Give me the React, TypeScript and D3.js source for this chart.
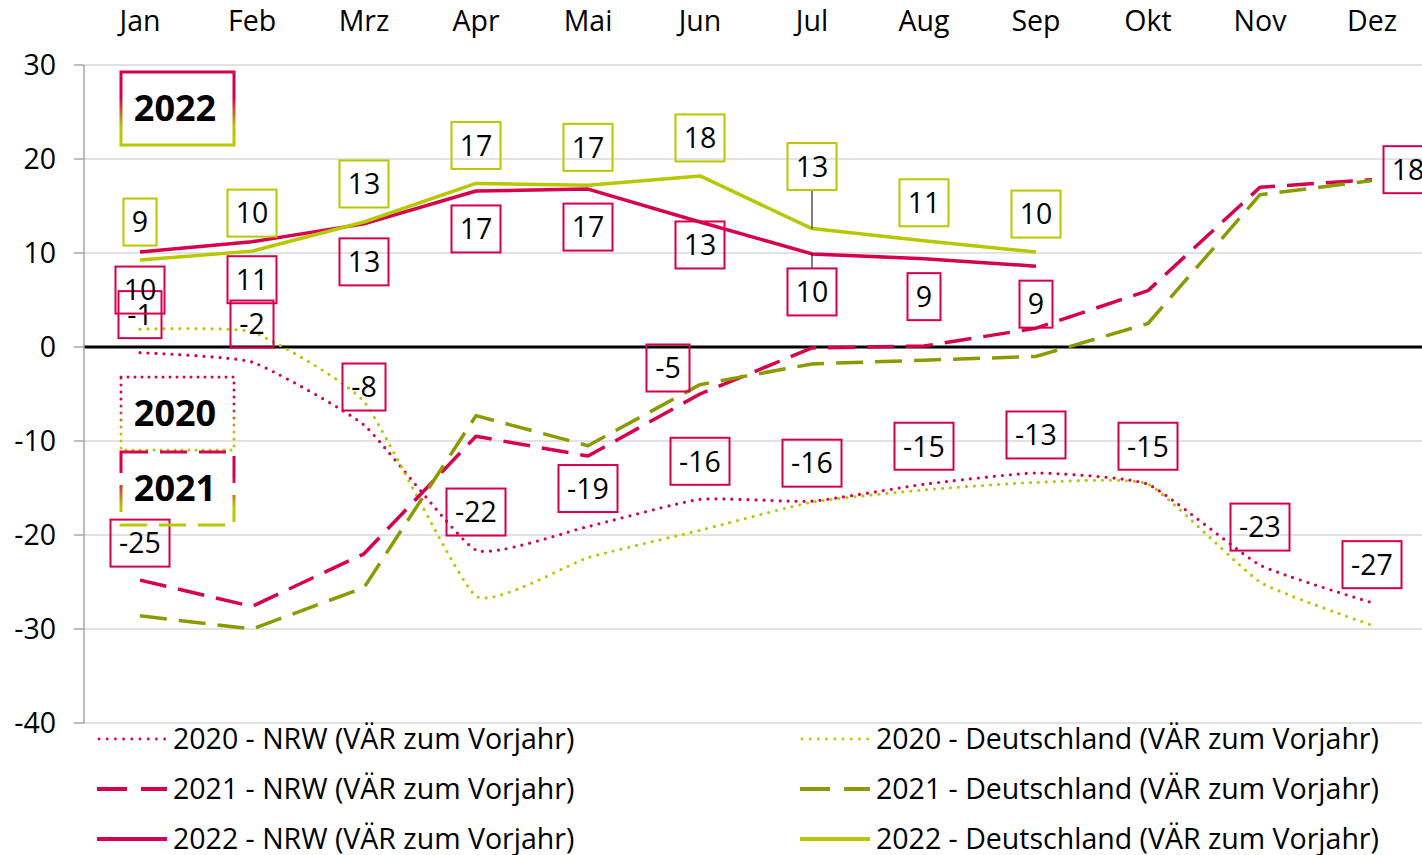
import React from 'react';
import * as d3 from 'd3';

const months = ['Jan', 'Feb', 'Mrz', 'Apr', 'Mai', 'Jun', 'Jul', 'Aug', 'Sep', 'Okt', 'Nov', 'Dez'];
const yTicks = [30, 20, 10, 0, -10, -20, -30, -40];

const nrw2020 = [-0.6, -1.6, -8.3, -21.6, -19.1, -16.2, -16.4, -14.6, -13.4, -14.6, -23.2, -27.2];
const de2020 = [1.9, 1.6, -5.8, -26.5, -22.4, -19.5, -16.5, -15.2, -14.4, -14.6, -25.0, -29.6];
const nrw2021 = [-24.8, -27.6, -22.0, -9.5, -11.6, -5.0, -0.1, 0.1, 2.0, 6.0, 17.0, 17.8];
const de2021 = [-28.6, -30.0, -25.6, -7.3, -10.5, -4.0, -1.8, -1.4, -1.0, 2.5, 16.2, 17.7];
const nrw2022 = [10.1, 11.2, 13.1, 16.6, 16.8, 13.3, 9.9, 9.4, 8.6];
const de2022 = [9.25, 10.2, 13.3, 17.4, 17.2, 18.2, 12.6, 11.3, 10.1];

const CRIMSON = '#d6004f';
const LIME = '#b7c800';
const OLIVE = '#8a9a00';
const FONT = '"Open Sans", "Noto Sans", sans-serif';
const FS = 28.5;

type Series = {
  name: string;
  values: number[];
  color: string;
  dash: string;
  width: number;
  smooth: boolean;
  labelColor: string | null;
  labels: { i: number; dx: number; dy: number; leader?: boolean }[];
};

const allIdx = (n: number, dy: number) => d3.range(n).map((i) => ({ i, dx: 0, dy }));

const series: Series[] = [
  { name: '2020 - NRW (VÄR zum Vorjahr)', values: nrw2020, color: CRIMSON, dash: '0 8', width: 3.2, smooth: true, labelColor: CRIMSON, labels: allIdx(12, -38) },
  { name: '2020 - Deutschland (VÄR zum Vorjahr)', values: de2020, color: LIME, dash: '0 8', width: 3.2, smooth: true, labelColor: null, labels: [] },
  { name: '2021 - NRW (VÄR zum Vorjahr)', values: nrw2021, color: CRIMSON, dash: '27 12', width: 3.5, smooth: false, labelColor: CRIMSON, labels: [{ i: 0, dx: 0, dy: -37 }, { i: 5, dx: -32, dy: -26 }, { i: 11, dx: 36, dy: -10 }] },
  { name: '2021 - Deutschland (VÄR zum Vorjahr)', values: de2021, color: OLIVE, dash: '27 12', width: 3.5, smooth: false, labelColor: null, labels: [] },
  { name: '2022 - NRW (VÄR zum Vorjahr)', values: nrw2022, color: CRIMSON, dash: '', width: 3.5, smooth: false, labelColor: CRIMSON, labels: allIdx(9, 38).map((l) => (l.i === 5 ? { ...l, dy: 23 } : l.i === 6 ? { ...l, leader: true } : l)) },
  { name: '2022 - Deutschland (VÄR zum Vorjahr)', values: de2022, color: LIME, dash: '', width: 3.5, smooth: false, labelColor: LIME, labels: allIdx(9, -38).map((l) => (l.i === 6 ? { ...l, dy: -62, leader: true } : l)) },
];

const legendOrder = [0, 1, 2, 3, 4, 5];

export default function App() {
  const W = 1422;
  const H = 855;
  const left = 84;
  const x = d3.scaleBand<string>().domain(months).range([left, left + 112 * 12]);
  const cx = (i: number) => (x(months[i]) as number) + x.bandwidth() / 2;
  const y = d3.scaleLinear().domain([-40, 30]).range([723, 65]);

  const lineGen = (smooth: boolean) =>
    d3
      .line<number>()
      .x((_, i) => cx(i))
      .y((d) => y(d))
      .curve(smooth ? d3.curveCardinal.tension(0.55) : d3.curveLinear);

  const boxW = (t: string) => {
    const digits = t.replace('-', '').length;
    return 17 + digits * 16 + (t.startsWith('-') ? 10 : 0);
  };
  const boxH = 47;

  return (
    <svg width={W} height={H} style={{ position: 'absolute', left: 0, top: 0, background: '#fff' }} fontFamily={FONT}>
      <defs>
        <linearGradient id="gr" x1="0" y1="0" x2="0" y2="1">
          <stop offset="0" stopColor={CRIMSON} />
          <stop offset="0.35" stopColor={CRIMSON} />
          <stop offset="0.75" stopColor={LIME} />
          <stop offset="1" stopColor={LIME} />
        </linearGradient>
      </defs>
      {/* gridlines */}
      {yTicks.map((t) => (
        <g key={t}>
          <line x1={left} x2={W} y1={y(t)} y2={y(t)} stroke={t === 0 ? '#000' : '#d9d9d9'} strokeWidth={t === 0 ? 3 : 1.5} />
          <line x1={left - 10} x2={left} y1={y(t)} y2={y(t)} stroke="#a6a6a6" strokeWidth={1.5} />
          <text x={56} y={y(t)} dy="0.35em" textAnchor="end" fontSize={FS} fill="#000">
            {t}
          </text>
        </g>
      ))}
      <line x1={left} x2={left} y1={y(30)} y2={y(-40)} stroke="#a6a6a6" strokeWidth={1.5} />
      {/* x labels */}
      {months.map((m, i) => (
        <text key={m} x={cx(i)} y={21} dy="0.35em" textAnchor="middle" fontSize={FS} fill="#000">
          {m}
        </text>
      ))}
      {/* lines */}
      {series.map((s) => (
        <path
          key={s.name}
          d={lineGen(s.smooth)(s.values) || ''}
          fill="none"
          stroke={s.color}
          strokeWidth={s.width}
          strokeDasharray={s.dash || undefined}
          strokeLinecap={s.dash.startsWith('0') ? 'round' : 'butt'}
          strokeLinejoin="round"
        />
      ))}
      {/* labels */}
      {series.map((s) =>
        s.labels.map((l) => {
          const v = s.values[l.i];
          const t = String(Math.round(v));
          const px = cx(l.i) + l.dx;
          const py = y(v) + l.dy;
          const w = boxW(t);
          return (
            <g key={s.name + l.i}>
              {l.leader && (
                <line
                  x1={cx(l.i)}
                  x2={cx(l.i)}
                  y1={l.dy < 0 ? py + boxH / 2 : py - boxH / 2}
                  y2={y(v)}
                  stroke="#000"
                  strokeWidth={1}
                />
              )}
              <rect x={px - w / 2} y={py - boxH / 2} width={w} height={boxH} fill="none" stroke={s.labelColor as string} strokeWidth={2} />
              <text x={px} y={py} dy="0.36em" textAnchor="middle" fontSize={FS} fill="#000">
                {t}
              </text>
            </g>
          );
        })
      )}
      {/* year boxes */}
      <rect x={121} y={72} width={113} height={73} fill="none" stroke="url(#gr)" strokeWidth={3} />
      <text x={175} y={108} dy="0.36em" textAnchor="middle" fontSize={36} fontWeight="bold" fill="#000">2022</text>
      <rect x={121} y={377} width={113} height={73} fill="none" stroke="url(#gr)" strokeWidth={3} strokeDasharray="0 7" strokeLinecap="round" />
      <text x={175} y={413} dy="0.36em" textAnchor="middle" fontSize={36} fontWeight="bold" fill="#000">2020</text>
      <rect x={121} y={452} width={113} height={73} fill="none" stroke="url(#gr)" strokeWidth={3} strokeDasharray="27 12" />
      <text x={175} y={488} dy="0.36em" textAnchor="middle" fontSize={36} fontWeight="bold" fill="#000">2021</text>
      {/* legend */}
      {legendOrder.map((si, k) => {
        const s = series[si];
        const col = k % 2;
        const row = Math.floor(k / 2);
        const lx = col === 0 ? 97 : 800;
        const ly = 739 + row * 50;
        const dotted = s.dash.startsWith('0');
        return (
          <g key={'lg' + k}>
            <line
              x1={dotted ? lx + 2 : lx}
              x2={lx + 70}
              y1={ly}
              y2={ly}
              stroke={s.color}
              strokeWidth={dotted ? 2.8 : 4}
              strokeDasharray={dotted ? '0 8.2' : s.dash ? '30 14' : undefined}
              strokeLinecap={dotted ? 'round' : 'butt'}
            />
            <text x={lx + 76} y={ly} dy="0.35em" fontSize={FS} fill="#000">
              {s.name}
            </text>
          </g>
        );
      })}
    </svg>
  );
}
